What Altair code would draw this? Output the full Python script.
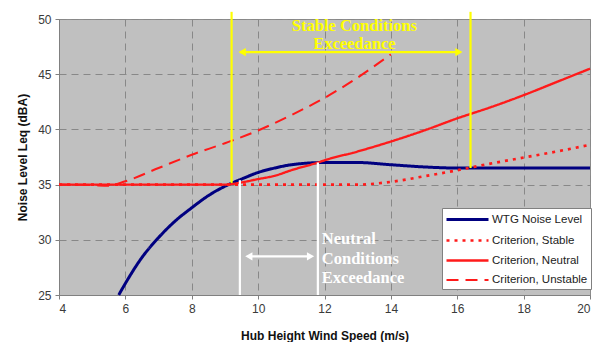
import altair as alt
import pandas as pd

# ---- data ----
wtg_x = [5.8, 6.0, 6.5, 7.0, 7.5, 8.0, 8.5, 9.0, 9.5, 10.0, 10.5, 11.0, 12.0, 13.0, 14.0, 15.0, 16.0, 17.0, 18.0, 19.0, 20.0]
wtg_y = [25.0, 26.05, 28.4, 30.2, 31.7, 32.9, 34.0, 34.85, 35.5, 36.1, 36.5, 36.8, 37.0, 37.0, 36.8, 36.6, 36.5, 36.5, 36.5, 36.5, 36.5]

stable_x = [4, 6, 8, 10, 12, 13, 14, 15, 16, 17, 18, 19, 20]
stable_y = [35.0, 35.0, 35.0, 35.0, 35.0, 35.0, 35.25, 35.75, 36.3, 36.9, 37.45, 38.0, 38.6]

neutral_x = [4, 6, 8, 9, 9.5, 10, 10.5, 11, 11.8, 12, 13, 14, 15, 16, 17, 18, 19, 20]
neutral_y = [35.0, 35.0, 35.0, 35.0, 35.2, 35.5, 35.8, 36.3, 37.0, 37.2, 38.0, 38.9, 39.9, 41.0, 42.0, 43.1, 44.3, 45.5]

unstable_x = [4, 5, 5.5, 6, 7, 8, 9, 10, 11, 12, 13, 14]
unstable_y = [35.0, 34.95, 34.9, 35.3, 36.5, 37.7, 38.75, 39.9, 41.3, 42.85, 44.7, 46.8]

series_names = ["WTG Noise Level", "Criterion, Stable", "Criterion, Neutral", "Criterion, Unstable"]
series_colors = ["#000080", "#ff1a1a", "#ff1a1a", "#ff1a1a"]
series_dash = [[1, 0], [3, 5], [1, 0], [12, 7]]
series_width = [3, 2, 1.6, 2]

x_ticks = [4, 6, 8, 10, 12, 14, 16, 18, 20]
y_ticks = [25, 30, 35, 40, 45, 50]

# annotation values
stable_bounds_x = [9.2, 16.4]
stable_bounds_y = [35.15, 36.5]
neutral_bounds_x = [9.45, 11.8]
neutral_bounds_y = [35.4, 37.0]

rows = []
for name, xs, ys in [
    (series_names[0], wtg_x, wtg_y),
    (series_names[1], stable_x, stable_y),
    (series_names[2], neutral_x, neutral_y),
    (series_names[3], unstable_x, unstable_y),
]:
    for a, b in zip(xs, ys):
        rows.append({"series": name, "x": a, "y": b})
df = pd.DataFrame(rows)

xscale = alt.Scale(domain=[4, 20], nice=False, zero=False)
yscale = alt.Scale(domain=[25, 50], nice=False, zero=False)

xaxis = alt.Axis(values=x_ticks, title="Hub Height Wind Speed (m/s)", titlePadding=16)
yaxis = alt.Axis(values=y_ticks, title="Noise Level Leq (dBA)", titlePadding=8)

leg = alt.Legend(title=None, orient="none", legendX=383, legendY=189)

lines = alt.Chart(df).mark_line(interpolate="monotone").encode(
    x=alt.X("x:Q", scale=xscale, axis=xaxis),
    y=alt.Y("y:Q", scale=yscale, axis=yaxis),
    color=alt.Color("series:N", scale=alt.Scale(domain=series_names, range=series_colors), legend=leg),
    strokeDash=alt.StrokeDash("series:N", scale=alt.Scale(domain=series_names, range=series_dash), legend=leg),
    strokeWidth=alt.StrokeWidth("series:N", scale=alt.Scale(domain=series_names, range=series_width), legend=leg),
    order=alt.Order("x:Q"),
)

# yellow vertical bounds
ydf = pd.DataFrame({"x": stable_bounds_x, "y1": stable_bounds_y, "y2": [50.65, 50.65]})
yellow_v = alt.Chart(ydf).mark_rule(color="#ffff00", strokeWidth=2.2).encode(
    x="x:Q", y="y1:Q", y2="y2:Q"
)
# yellow arrow
yadf = pd.DataFrame({"x1": [9.45], "x2": [16.1], "y": [47.0]})
yellow_h = alt.Chart(yadf).mark_rule(color="#ffff00", strokeWidth=2.2).encode(
    x="x1:Q", x2="x2:Q", y="y:Q"
)
yheads = pd.DataFrame({"x": [9.52, 16.05], "y": [47.0, 47.0], "shape": ["triangle-left", "triangle-right"]})
yellow_heads = alt.Chart(yheads).mark_point(filled=True, color="#ffff00", opacity=1, size=70).encode(
    x="x:Q", y="y:Q",
    shape=alt.Shape("shape:N", scale=None, legend=None),
)

# white vertical bounds
wdf = pd.DataFrame({"x": neutral_bounds_x, "y1": [25, 25], "y2": neutral_bounds_y})
white_v = alt.Chart(wdf).mark_rule(color="#ffffff", strokeWidth=2.2).encode(
    x="x:Q", y="y1:Q", y2="y2:Q"
)
wadf = pd.DataFrame({"x1": [9.7], "x2": [11.6], "y": [28.5]})
white_h = alt.Chart(wadf).mark_rule(color="#ffffff", strokeWidth=2.2).encode(
    x="x1:Q", x2="x2:Q", y="y:Q"
)
wheads = pd.DataFrame({"x": [9.72, 11.58], "y": [28.5, 28.5], "shape": ["triangle-left", "triangle-right"]})
white_heads = alt.Chart(wheads).mark_point(filled=True, color="#ffffff", opacity=1, size=70).encode(
    x="x:Q", y="y:Q",
    shape=alt.Shape("shape:N", scale=None, legend=None),
)

stdf = pd.DataFrame({"x": [12.9, 12.9], "y": [49.4, 47.75], "t": ["Stable Conditions", "Exceedance"]})
stable_text = alt.Chart(stdf).mark_text(
    font="Liberation Serif", fontWeight="bold", fontSize=16.5, color="#ffff00", align="center", baseline="middle"
).encode(x="x:Q", y="y:Q", text="t:N")

ntdf = pd.DataFrame({"x": [11.92, 11.92, 11.92], "y": [30.1, 28.3, 26.55], "t": ["Neutral", "Conditions", "Exceedance"]})
neutral_text = alt.Chart(ntdf).mark_text(
    font="Liberation Serif", fontWeight="bold", fontSize=16.5, color="#ffffff", align="left", baseline="middle"
).encode(x="x:Q", y="y:Q", text="t:N")

chart = alt.layer(
    lines, yellow_v, yellow_h, yellow_heads, white_v, white_h, white_heads, stable_text, neutral_text
).properties(
    width=531, height=276,
    autosize=alt.AutoSizeParams(type="none"),
    padding={"left": 59, "top": 19, "right": 12, "bottom": 47},
    background="white",
).configure_view(
    fill="#c0c0c0", stroke="#8c8c8c", strokeWidth=1
).configure_axis(
    domainColor="#808080", tickColor="#808080", tickSize=4,
    gridColor="#888888", gridDash=[7, 5], gridWidth=1,
    labelFont="Liberation Sans", labelFontSize=12, labelColor="#3a3a3a", labelPadding=4,
    titleFont="Liberation Sans", titleFontSize=12, titleFontWeight="bold", titleColor="#111111",
).configure_legend(
    fillColor="#ffffff", strokeColor="#808080", padding=3,
    symbolType="M-1,0H5", symbolSize=196, rowPadding=6,
    labelFont="Liberation Sans", labelFontSize=11.5, labelColor="#222222", labelOffset=30,
)

chart.save("out.html", embed_options={"renderer": "svg", "actions": False})
